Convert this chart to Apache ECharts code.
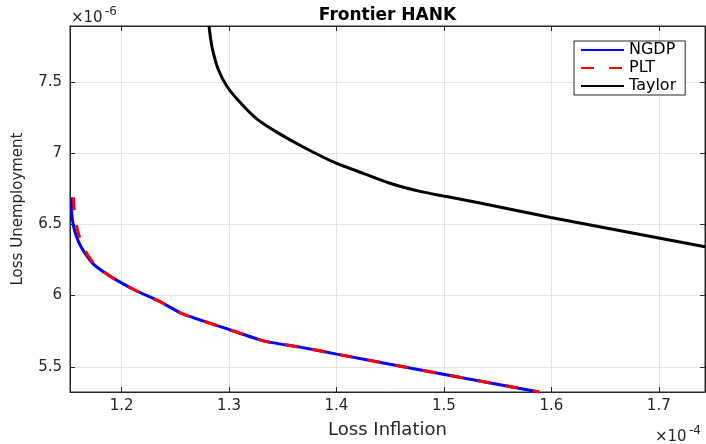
<!DOCTYPE html>
<html>
<head>
<meta charset="utf-8">
<script src="https://cdn.jsdelivr.net/npm/echarts@6/dist/echarts.min.js"></script>
<style>
  html, body { margin: 0; padding: 0; background: #fff; }
  #main { width: 706px; height: 444px; }
</style>
</head>
<body>
<div id="main"></div>
<script>
// values are in units of 1e-4 (x) and 1e-6 (y), as the axes show them
let ngdpX = [1.1537, 1.1535, 1.1543, 1.1565, 1.1598, 1.1645, 1.1738, 1.1862, 1.1986, 1.2141, 1.2358, 1.2575, 1.3, 1.3319, 1.366, 1.4002, 1.4994, 1.5887];
let ngdpY = [6.689, 6.61, 6.53, 6.45, 6.38, 6.314, 6.221, 6.151, 6.094, 6.032, 5.957, 5.869, 5.762, 5.682, 5.638, 5.589, 5.448, 5.323];

let pltX = [1.1553, 1.1557, 1.1569, 1.1593, 1.1622, 1.1661, 1.1745, 1.1862, 1.1986, 1.2141, 1.2358, 1.2575, 1.3, 1.3319, 1.366, 1.4002, 1.4994, 1.5887];
let pltY = [6.689, 6.61, 6.53, 6.45, 6.38, 6.314, 6.221, 6.151, 6.094, 6.032, 5.957, 5.869, 5.762, 5.682, 5.638, 5.589, 5.448, 5.323];

let taylorX = [1.2814, 1.283, 1.2854, 1.290, 1.2979, 1.3102, 1.3258, 1.3444, 1.369, 1.4002, 1.425, 1.4498, 1.4777, 1.5025, 1.5335, 1.5995, 1.743];
let taylorY = [7.892, 7.795, 7.703, 7.587, 7.471, 7.356, 7.240, 7.147, 7.043, 6.927, 6.858, 6.788, 6.731, 6.695, 6.649, 6.548, 6.342];

let xTicks = [1.2, 1.3, 1.4, 1.5, 1.6, 1.7];
let yTicks = [5.5, 6, 6.5, 7, 7.5];

let xMin = 1.152, xMax = 1.743;
let yMin = 5.323, yMax = 7.892;

function pairs(xs, ys) {
  return xs.map((x, i) => [x, ys[i]]);
}

let font = 'DejaVu Sans';
let axisColor = '#262626';

let chartDom = document.getElementById('main');
let myChart = echarts.init(chartDom);

let option = {
  animation: false,
  backgroundColor: '#fff',
  textStyle: { fontFamily: font },
  grid: {
    left: 70, top: 26, width: 635, height: 371,
    show: true, borderColor: axisColor, borderWidth: 1
  },
  legend: {
    orient: 'vertical',
    left: 574, top: 41,
    padding: [0, 9, 0, 6],
    itemGap: 0,
    itemWidth: 43,
    itemHeight: 12,
    backgroundColor: '#fff',
    borderColor: axisColor,
    borderWidth: 1,
    borderRadius: 0,
    itemStyle: { opacity: 0 },
    textStyle: { fontFamily: font, fontSize: 16, color: '#000', lineHeight: 18, padding: [0, 0, 0, 0] },
    data: ['NGDP', 'PLT', 'Taylor']
  },
  graphic: [
    { type: 'text', style: { text: 'Frontier HANK', x: 387.5, y: 15.5, align: 'center', verticalAlign: 'middle',
        font: 'bold 17px "DejaVu Sans"', fill: '#000' } },
    { type: 'text', style: { text: '×10', x: 71, y: 18, verticalAlign: 'middle', font: '15px "DejaVu Sans"', fill: axisColor } },
    { type: 'text', style: { text: '-6', x: 105, y: 12, verticalAlign: 'middle', font: '12px "DejaVu Sans"', fill: axisColor } },
    { type: 'text', style: { text: '×10', x: 655, y: 437, verticalAlign: 'middle', font: '15px "DejaVu Sans"', fill: axisColor } },
    { type: 'text', style: { text: '-4', x: 689, y: 431, verticalAlign: 'middle', font: '12px "DejaVu Sans"', fill: axisColor } }
  ],
  xAxis: [
    {
      type: 'value', position: 'bottom', min: xMin, max: xMax,
      name: 'Loss Inflation', nameLocation: 'middle', nameGap: 29,
      nameTextStyle: { fontFamily: font, fontSize: 18, color: axisColor },
      axisLine: { show: true, lineStyle: { color: axisColor, width: 1 } },
      axisTick: { show: true, inside: true, length: 5, customValues: xTicks, lineStyle: { color: axisColor } },
      axisLabel: { customValues: xTicks, margin: 7, fontSize: 15, color: axisColor, fontFamily: font,
        formatter: v => v.toFixed(1) },
      splitLine: { show: true, lineStyle: { color: '#e3e3e3', width: 1 } }
    },
    {
      type: 'value', position: 'top', min: xMin, max: xMax,
      axisLine: { show: true, lineStyle: { color: axisColor, width: 1 } },
      axisTick: { show: true, inside: true, length: 5, customValues: xTicks, lineStyle: { color: axisColor } },
      axisLabel: { show: false },
      splitLine: { show: false }
    }
  ],
  yAxis: [
    {
      type: 'value', position: 'left', min: yMin, max: yMax,
      name: 'Loss Unemployment', nameLocation: 'middle', nameGap: 44,
      nameTextStyle: { fontFamily: font, fontSize: 15, color: axisColor },
      axisLine: { show: true, lineStyle: { color: axisColor, width: 1 } },
      axisTick: { show: true, inside: true, length: 5, customValues: yTicks, lineStyle: { color: axisColor } },
      axisLabel: { customValues: yTicks, margin: 8, fontSize: 15, color: axisColor, fontFamily: font,
        formatter: v => String(v) },
      splitLine: { show: true, lineStyle: { color: '#e3e3e3', width: 1 } }
    },
    {
      type: 'value', position: 'right', min: yMin, max: yMax,
      axisLine: { show: true, lineStyle: { color: axisColor, width: 1 } },
      axisTick: { show: true, inside: true, length: 5, customValues: yTicks, lineStyle: { color: axisColor } },
      axisLabel: { show: false },
      splitLine: { show: false }
    }
  ],
  series: [
    {
      name: 'NGDP', type: 'line', xAxisIndex: 0, yAxisIndex: 0,
      symbol: 'none', smooth: 0.2,
      lineStyle: { color: '#0000ff', width: 3 },
      itemStyle: { color: '#0000ff' },
      data: pairs(ngdpX, ngdpY)
    },
    {
      name: 'PLT', type: 'line', xAxisIndex: 0, yAxisIndex: 0,
      symbol: 'none', smooth: 0.2,
      lineStyle: { color: '#ff0000', width: 3, type: [13, 15] },
      itemStyle: { color: '#ff0000' },
      data: pairs(pltX, pltY)
    },
    {
      name: 'Taylor', type: 'line', xAxisIndex: 0, yAxisIndex: 0,
      symbol: 'none', smooth: 0.2,
      lineStyle: { color: '#000000', width: 3 },
      itemStyle: { color: '#000000' },
      data: pairs(taylorX, taylorY)
    }
  ]
};

option && myChart.setOption(option);
</script>
</body>
</html>
